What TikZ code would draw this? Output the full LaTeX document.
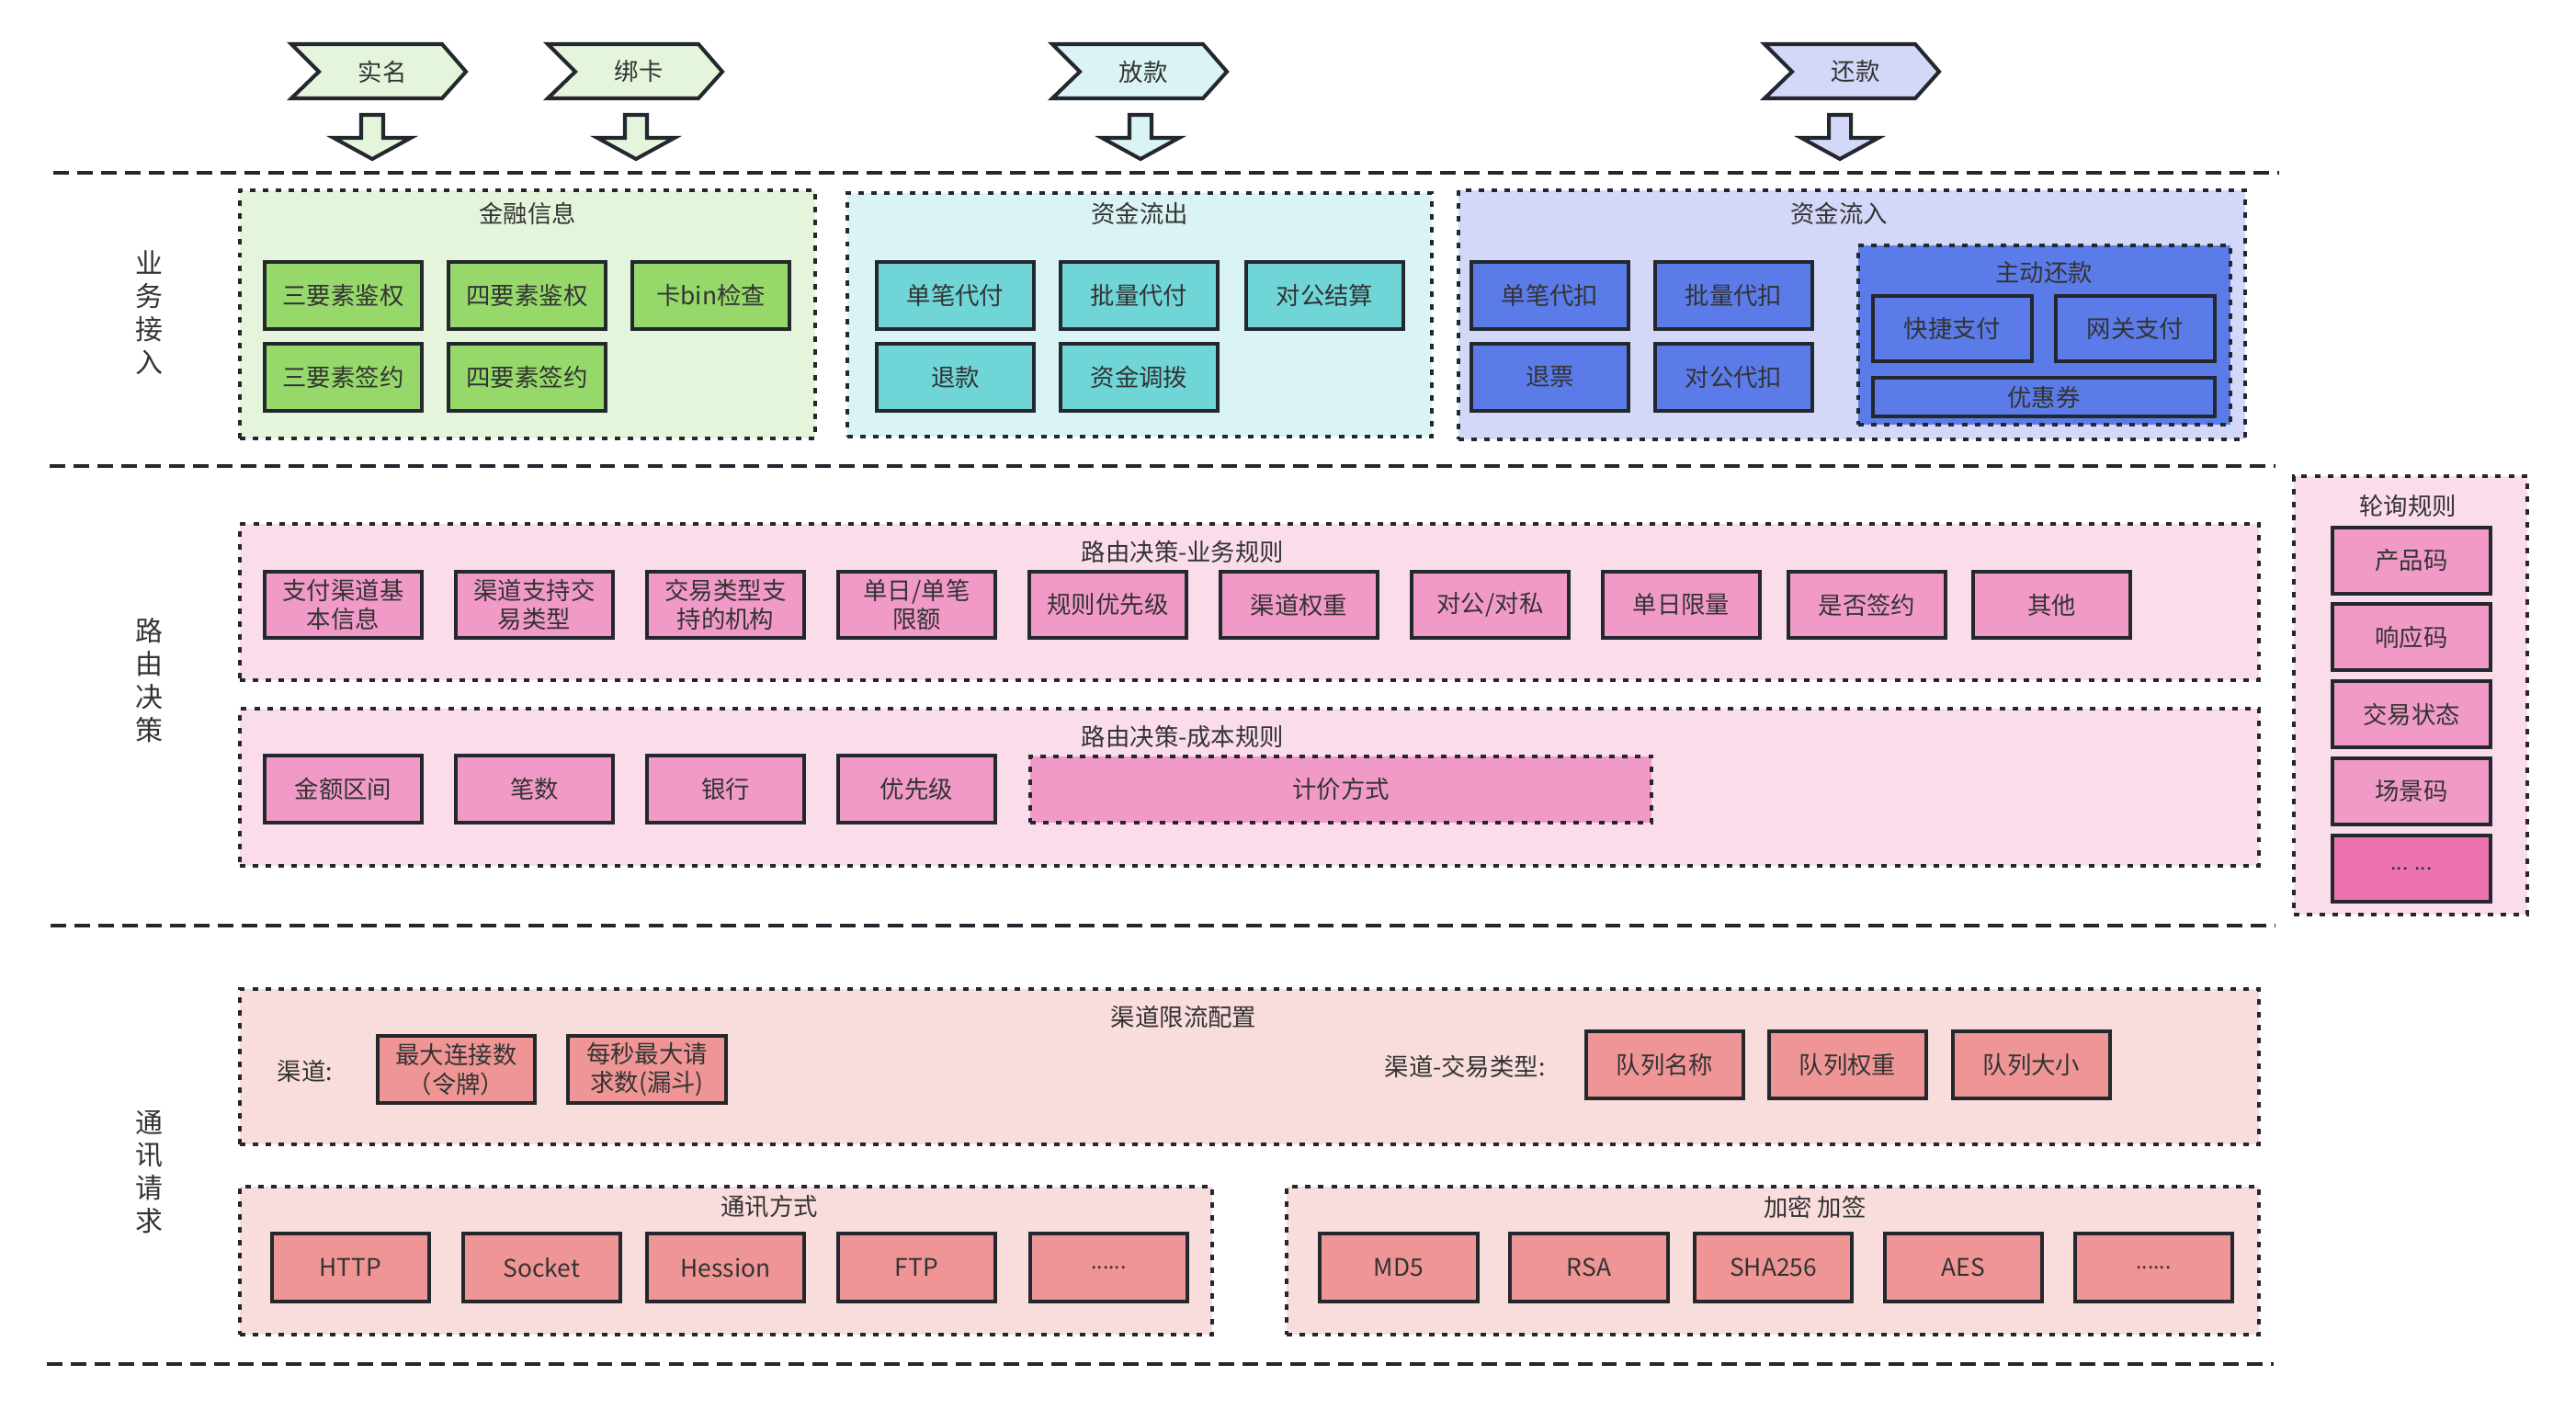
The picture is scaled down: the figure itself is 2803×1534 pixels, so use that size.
\documentclass[tikz,border=0pt]{standalone}
\usepackage{fontspec}
\setmainfont{Noto Sans CJK SC}
\definecolor{dk}{HTML}{23272E}
\definecolor{txt}{HTML}{333333}
\definecolor{gbg}{HTML}{E5F5DC}
\definecolor{gbx}{HTML}{96D86A}
\definecolor{cbg}{HTML}{DAF3F4}
\definecolor{cbx}{HTML}{6FD5D7}
\definecolor{bbg}{HTML}{D4D8F8}
\definecolor{bbx}{HTML}{5B7BE8}
\definecolor{pbg}{HTML}{FADCEB}
\definecolor{pbx}{HTML}{F19AC8}
\definecolor{pdk}{HTML}{EC72B0}
\definecolor{sbg}{HTML}{F9DCDC}
\definecolor{sbx}{HTML}{F09595}
\newcommand\B[7]{\node[#2, minimum width={(#5-#3)*0.01cm}, minimum height={(#6-#4)*0.01cm}] (#1) at ({(#3+#5)/2},{(#4+#6)/2}) {#7};}
\newcommand\Chev[5]{%
  \draw[chev, fill=#4] (#2,48) -- (#3-26,48) -- (#3,78) -- (#3-26,107) -- (#2,107) -- (#2+30,78) -- cycle;
  \node (#1) at ({(#2+#3)/2+4},78) {#5};}
\newcommand\DArr[3]{%
  \draw[chev, fill=#3] (#2-12,125) -- (#2+12,125) -- (#2+12,150) -- (#2+42,150) -- (#2,173) -- (#2-42,150) -- (#2-12,150) -- cycle;
  \coordinate (#1) at (#2,149);}
\begin{document}
\begin{tikzpicture}[x=0.01cm,y=-0.01cm, font=\fontsize{7.5}{9}\selectfont, text=txt,
  box/.style={draw=dk, line width=1.14pt, inner sep=0pt, align=center},
  grp/.style={draw=dk, line width=1.1pt, dash pattern=on 1.7pt off 2.3pt, inner sep=0pt},
  sepl/.style={draw=dk, line width=1.15pt, dash pattern=on 4.8pt off 2.6pt},
  chev/.style={draw=dk, line width=1.15pt, line join=miter},
  vt/.style={font=\fontsize{8.5}{10.2}\selectfont, align=center},
  small/.style={font=\fontsize{6.5}{7}\selectfont}]
\fill[white] (0,0) rectangle (2803,1534);
\useasboundingbox (0,0) rectangle (2803,1534);

% top chevrons and arrows
\Chev{c1}{317}{507}{gbg}{实名}
\Chev{c2}{596}{786}{gbg}{绑卡}
\Chev{c3}{1145}{1335}{cbg}{放款}
\Chev{c4}{1920}{2110}{bbg}{还款}
\DArr{a1}{405}{gbg}
\DArr{a2}{692}{gbg}
\DArr{a3}{1241}{cbg}
\DArr{a4}{2002}{bbg}

% separators
\coordinate (s1a) at (58,188);   \coordinate (s1b) at (2480,188);
\coordinate (s2a) at (54,507);   \coordinate (s2b) at (2476,507);
\coordinate (s3a) at (55,1007);  \coordinate (s3b) at (2476,1007);
\coordinate (s4a) at (51,1484);  \coordinate (s4b) at (2474,1484);
\draw[sepl] (s1a) -- (s1b);
\draw[sepl] (s2a) -- (s2b);
\draw[sepl] (s3a) -- (s3b);
\draw[sepl] (s4a) -- (s4b);

% side labels
\node[vt] (v1) at (162,340) {业\\务\\接\\入};
\node[vt] (v2) at (162,740) {路\\由\\决\\策};
\node[vt] (v3) at (162,1275) {通\\讯\\请\\求};

% ===== section 1 =====
\B{g1}{grp, fill=gbg}{261}{207}{887}{477}{}
\node (g1t) at (574,232) {金融信息};
\B{b11}{box, fill=gbx}{288}{285}{459}{358}{三要素鉴权}
\B{b12}{box, fill=gbx}{488}{285}{659}{358}{四要素鉴权}
\B{b13}{box, fill=gbx}{688}{285}{859}{358}{卡bin检查}
\B{b14}{box, fill=gbx}{288}{374}{459}{447}{三要素签约}
\B{b15}{box, fill=gbx}{488}{374}{659}{447}{四要素签约}

\B{g2}{grp, fill=cbg}{922}{210}{1558}{475}{}
\node (g2t) at (1240,232) {资金流出};
\B{b21}{box, fill=cbx}{954}{285}{1125}{358}{单笔代付}
\B{b22}{box, fill=cbx}{1154}{285}{1325}{358}{批量代付}
\B{b23}{box, fill=cbx}{1356}{285}{1527}{358}{对公结算}
\B{b24}{box, fill=cbx}{954}{374}{1125}{447}{退款}
\B{b25}{box, fill=cbx}{1154}{374}{1325}{447}{资金调拨}

\B{g3}{grp, fill=bbg}{1587}{207}{2443}{478}{}
\node (g3t) at (2001,232) {资金流入};
\B{b31}{box, fill=bbx}{1601}{285}{1772}{358}{单笔代扣}
\B{b32}{box, fill=bbx}{1801}{285}{1972}{358}{批量代扣}
\B{b33}{box, fill=bbx}{1601}{374}{1772}{447}{退票}
\B{b34}{box, fill=bbx}{1801}{374}{1972}{447}{对公代扣}
\B{g4}{grp, fill=bbx}{2022}{267}{2427}{462}{}
\node (g4t) at (2224,297) {主动还款};
\B{b41}{box, fill=bbx}{2038}{322}{2211}{393}{快捷支付}
\B{b42}{box, fill=bbx}{2237}{322}{2410}{393}{网关支付}
\B{b43}{box, fill=bbx}{2038}{411}{2410}{453}{优惠券}

% ===== section 2 =====
\B{g5}{grp, fill=pbg}{261}{570}{2458}{740}{}
\node (g5t) at (1287,600) {路由决策-业务规则};
\B{r1}{box, fill=pbx}{288}{622}{459}{694}{支付渠道基\\本信息}
\B{r2}{box, fill=pbx}{496}{622}{667}{694}{渠道支持交\\易类型}
\B{r3}{box, fill=pbx}{704}{622}{875}{694}{交易类型支\\持的机构}
\B{r4}{box, fill=pbx}{912}{622}{1083}{694}{单日/单笔\\限额}
\B{r5}{box, fill=pbx}{1120}{622}{1291}{694}{规则优先级}
\B{r6}{box, fill=pbx}{1328}{622}{1499}{694}{渠道权重}
\B{r7}{box, fill=pbx}{1536}{622}{1707}{694}{对公/对私}
\B{r8}{box, fill=pbx}{1744}{622}{1915}{694}{单日限量}
\B{r9}{box, fill=pbx}{1946}{622}{2117}{694}{是否签约}
\B{r10}{box, fill=pbx}{2147}{622}{2318}{694}{其他}

\B{g6}{grp, fill=pbg}{261}{771}{2458}{942}{}
\node (g6t) at (1287,802) {路由决策-成本规则};
\B{k1}{box, fill=pbx}{288}{822}{459}{895}{金额区间}
\B{k2}{box, fill=pbx}{496}{822}{667}{895}{笔数}
\B{k3}{box, fill=pbx}{704}{822}{875}{895}{银行}
\B{k4}{box, fill=pbx}{912}{822}{1083}{895}{优先级}
\B{k5}{grp, fill=pbx}{1121}{823}{1797}{895}{计价方式}

\B{g7}{grp, fill=pbg}{2496}{518}{2750}{995}{}
\node (g7t) at (2620,550) {轮询规则};
\B{p1}{box, fill=pbx}{2538}{574}{2710}{646}{产品码}
\B{p2}{box, fill=pbx}{2538}{657}{2710}{729}{响应码}
\B{p3}{box, fill=pbx}{2538}{741}{2710}{813}{交易状态}
\B{p4}{box, fill=pbx}{2538}{825}{2710}{897}{场景码}
\B{p5}{box, fill=pdk, small}{2538}{909}{2710}{981}{... ...}

% ===== section 3 =====
\B{g8}{grp, fill=sbg}{261}{1076}{2458}{1245}{}
\node (g8t) at (1288,1106) {渠道限流配置};
\node (l1) at (332,1165) {渠道:};
\B{q1}{box, fill=sbx}{411}{1127}{582}{1200}{最大连接数\\（令牌）}
\B{q2}{box, fill=sbx}{618}{1127}{790}{1200}{每秒最大请\\求数(漏斗)}
\node (l2) at (1594,1160) {渠道-交易类型:};
\B{q3}{box, fill=sbx}{1726}{1122}{1897}{1195}{队列名称}
\B{q4}{box, fill=sbx}{1925}{1122}{2096}{1195}{队列权重}
\B{q5}{box, fill=sbx}{2125}{1122}{2296}{1195}{队列大小}

\B{g9}{grp, fill=sbg}{261}{1291}{1319}{1452}{}
\node (g9t) at (837,1313) {通讯方式};
\B{t1}{box, fill=sbx}{296}{1342}{467}{1416}{HTTP}
\B{t2}{box, fill=sbx}{504}{1342}{675}{1416}{Socket}
\B{t3}{box, fill=sbx}{704}{1342}{875}{1416}{Hession}
\B{t4}{box, fill=sbx}{912}{1342}{1083}{1416}{FTP}
\B{t5}{box, fill=sbx, small}{1121}{1342}{1292}{1416}{......}

\B{g10}{grp, fill=sbg}{1400}{1291}{2458}{1452}{}
\node (g10t) at (1975,1313) {加密 加签};
\B{e1}{box, fill=sbx}{1436}{1342}{1608}{1416}{MD5}
\B{e2}{box, fill=sbx}{1643}{1342}{1815}{1416}{RSA}
\B{e3}{box, fill=sbx}{1844}{1342}{2015}{1416}{SHA256}
\B{e4}{box, fill=sbx}{2051}{1342}{2222}{1416}{AES}
\B{e5}{box, fill=sbx, small}{2258}{1342}{2429}{1416}{......}
\end{tikzpicture}
\end{document}
